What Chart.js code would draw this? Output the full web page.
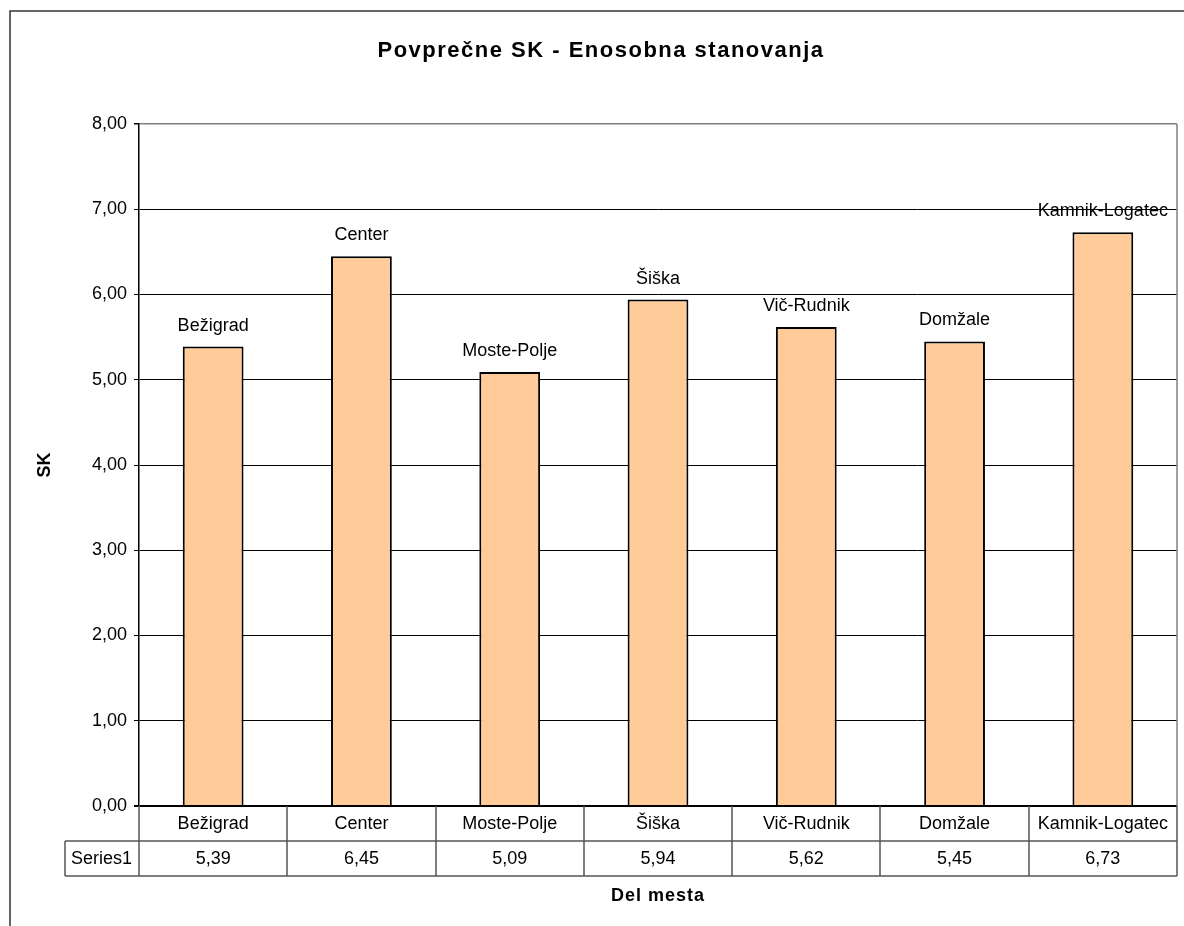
<!DOCTYPE html>
<html>
<head>
<meta charset="utf-8">
<style>
  html, body { margin: 0; padding: 0; background: #fff; }
  canvas { display: block; }
</style>
<script src="https://cdn.jsdelivr.net/npm/chart.js@4.4.1/dist/chart.umd.min.js"></script>
</head>
<body>
<canvas id="chart" width="1184" height="926"></canvas>
<script>
// Districts and their average SK for one-room flats
const categories = ['Bežigrad', 'Center', 'Moste-Polje', 'Šiška', 'Vič-Rudnik', 'Domžale', 'Kamnik-Logatec'];
const seriesName = 'Series1';
const seriesValues = [5.39, 6.45, 5.09, 5.94, 5.62, 5.45, 6.73];
const yTicks = [0, 1, 2, 3, 4, 5, 6, 7, 8];

const chartTitle = 'Povprečne SK - Enosobna stanovanja';
const xTitle = 'Del mesta';
const yTitle = 'SK';

const FONT = '"Liberation Sans", Arial, sans-serif';
const fmt = v => v.toFixed(2).replace('.', ',');

// Draws the frame, plot border, bar captions, data table and titles
const decorations = {
  id: 'decorations',
  beforeDraw(chart) {
    const c = chart.ctx;
    c.save();
    c.fillStyle = '#fff';
    c.fillRect(0, 0, chart.width, chart.height);
    c.strokeStyle = '#333';
    c.lineWidth = 1.5;
    c.beginPath();
    c.moveTo(10, chart.height + 2);
    c.lineTo(10, 11);
    c.lineTo(chart.width + 2, 11);
    c.stroke();
    c.restore();
  },
  afterDraw(chart) {
    const c = chart.ctx;
    const a = chart.chartArea;
    const x = chart.scales.x;
    const meta = chart.getDatasetMeta(0);
    c.save();

    // plot area border on the right
    c.strokeStyle = '#808080';
    c.lineWidth = 1.5;
    c.beginPath();
    c.moveTo(a.right, a.top);
    c.lineTo(a.right, a.bottom);
    c.stroke();

    // category names above each bar
    c.fillStyle = '#000';
    c.font = '18px ' + FONT;
    c.textAlign = 'center';
    c.textBaseline = 'alphabetic';
    meta.data.forEach((bar, i) => {
      c.fillText(categories[i], bar.x, bar.y - 16);
    });

    // data table under the axis
    const rowH = 35;
    const r0 = a.bottom, r1 = r0 + rowH, r2 = r1 + rowH;
    const labelLeft = 65;
    const step = (a.right - a.left) / categories.length;
    c.strokeStyle = '#555';
    c.lineWidth = 1.5;
    c.beginPath();
    c.moveTo(labelLeft, r1); c.lineTo(a.right, r1);
    c.moveTo(labelLeft, r2); c.lineTo(a.right, r2);
    c.moveTo(labelLeft, r1); c.lineTo(labelLeft, r2);
    for (let i = 0; i <= categories.length; i++) {
      const bx = Math.round(a.left + i * step);
      c.moveTo(bx, r0); c.lineTo(bx, r2);
    }
    c.stroke();

    c.fillStyle = '#000';
    c.font = '18px ' + FONT;
    c.textBaseline = 'middle';
    c.textAlign = 'center';
    categories.forEach((name, i) => {
      const cx = x.getPixelForValue(i);
      c.fillText(name, cx, r0 + rowH / 2 + 1);
      c.fillText(fmt(seriesValues[i]), cx, r1 + rowH / 2 + 1);
    });
    c.textAlign = 'left';
    c.fillText(seriesName, labelLeft + 6, r1 + rowH / 2 + 1);

    // axis title below the table
    c.font = 'bold 18px ' + FONT;
    c.letterSpacing = '1px';
    c.textAlign = 'center';
    c.fillText(xTitle, (a.left + a.right) / 2, 896);

    // chart title
    c.font = 'bold 22px ' + FONT;
    c.letterSpacing = '1.5px';
    c.fillText(chartTitle, 601, 51);

    c.restore();
  }
};

new Chart(document.getElementById('chart'), {
  type: 'bar',
  data: {
    labels: categories,
    datasets: [{
      label: seriesName,
      data: seriesValues,
      backgroundColor: '#FFCC99',
      borderColor: '#000',
      borderWidth: 2,
      borderSkipped: 'start',
      categoryPercentage: 1,
      barPercentage: 0.41
    }]
  },
  options: {
    responsive: false,
    animation: false,
    devicePixelRatio: 1,
    layout: { padding: { left: 0, top: 124, right: 7, bottom: 120 } },
    plugins: {
      legend: { display: false },
      title: { display: false },
      tooltip: { enabled: false }
    },
    scales: {
      x: {
        type: 'category',
        display: false,
        offset: true
      },
      y: {
        min: yTicks[0],
        max: yTicks[yTicks.length - 1],
        afterFit(scale) { scale.width = 139; },
        afterBuildTicks(scale) { scale.ticks = yTicks.map(v => ({ value: v })); },
        ticks: {
          color: '#000',
          font: { family: FONT, size: 18 },
          padding: 7,
          callback: v => fmt(v)
        },
        grid: {
          color: ctx => (ctx.tick && ctx.tick.value === 8) ? '#808080' : '#000',
          lineWidth: ctx => (ctx.tick && ctx.tick.value === 0) ? 2 : (ctx.tick && ctx.tick.value === 8 ? 1.5 : 1),
          tickColor: '#000',
          tickLength: 5,
          drawTicks: true
        },
        border: { display: true, color: '#000', width: 1.5 },
        title: {
          display: true,
          text: yTitle,
          color: '#000',
          font: { family: FONT, size: 18, weight: 'bold' },
          padding: { top: 34, bottom: 0 }
        }
      }
    }
  },
  plugins: [decorations]
});
</script>
</body>
</html>
